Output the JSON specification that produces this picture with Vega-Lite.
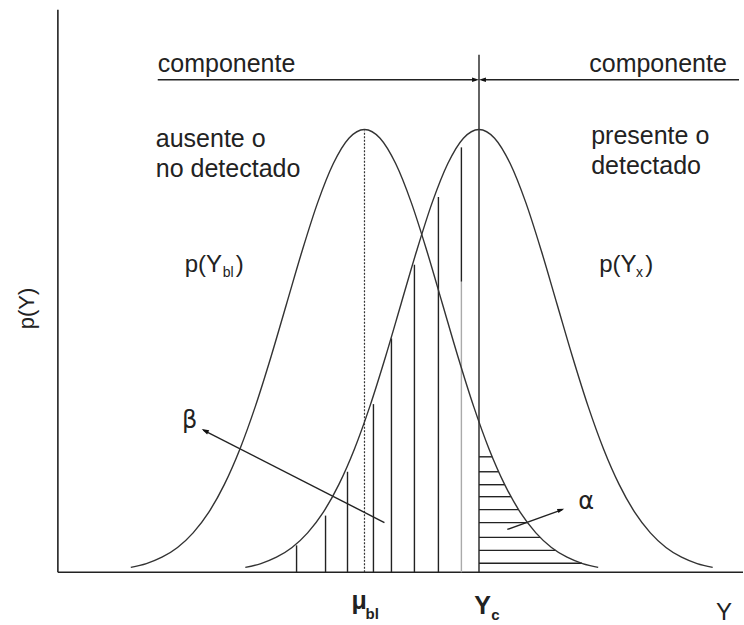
{
  "$schema": "https://vega.github.io/schema/vega-lite/v6.json",
  "width": 744,
  "height": 625,
  "padding": 0,
  "autosize": {"type": "fit", "contains": "padding"},
  "config": {"view": {"stroke": null}, "font": "Liberation Sans"},
  "datasets": {
    "curves": [
      {"c": "bl", "Y": -3.0, "p": 0.0044}, {"c": "bl", "Y": -2.8, "p": 0.0079}, {"c": "bl", "Y": -2.6, "p": 0.0136}, {"c": "bl", "Y": -2.4, "p": 0.0224}, {"c": "bl", "Y": -2.2, "p": 0.0356}, {"c": "bl", "Y": -2.0, "p": 0.0541}, {"c": "bl", "Y": -1.8, "p": 0.0792}, {"c": "bl", "Y": -1.6, "p": 0.1112}, {"c": "bl", "Y": -1.4, "p": 0.1501}, {"c": "bl", "Y": -1.2, "p": 0.1947}, {"c": "bl", "Y": -1.0, "p": 0.2426}, {"c": "bl", "Y": -0.8, "p": 0.2904}, {"c": "bl", "Y": -0.6, "p": 0.3341}, {"c": "bl", "Y": -0.4, "p": 0.3692}, {"c": "bl", "Y": -0.2, "p": 0.3921}, {"c": "bl", "Y": 0.0, "p": 0.4}, {"c": "bl", "Y": 0.2, "p": 0.3921}, {"c": "bl", "Y": 0.4, "p": 0.3692}, {"c": "bl", "Y": 0.6, "p": 0.3341}, {"c": "bl", "Y": 0.8, "p": 0.2904}, {"c": "bl", "Y": 1.0, "p": 0.2426}, {"c": "bl", "Y": 1.2, "p": 0.1947}, {"c": "bl", "Y": 1.4, "p": 0.1501}, {"c": "bl", "Y": 1.6, "p": 0.1112}, {"c": "bl", "Y": 1.8, "p": 0.0792}, {"c": "bl", "Y": 2.0, "p": 0.0541}, {"c": "bl", "Y": 2.2, "p": 0.0356}, {"c": "bl", "Y": 2.4, "p": 0.0224}, {"c": "bl", "Y": 2.6, "p": 0.0136}, {"c": "bl", "Y": 2.8, "p": 0.0079}, {"c": "bl", "Y": 3.0, "p": 0.0044},
      {"c": "x", "Y": -1.53, "p": 0.0044}, {"c": "x", "Y": -1.33, "p": 0.0079}, {"c": "x", "Y": -1.13, "p": 0.0136}, {"c": "x", "Y": -0.93, "p": 0.0224}, {"c": "x", "Y": -0.73, "p": 0.0356}, {"c": "x", "Y": -0.53, "p": 0.0541}, {"c": "x", "Y": -0.33, "p": 0.0792}, {"c": "x", "Y": -0.13, "p": 0.1112}, {"c": "x", "Y": 0.07, "p": 0.1501}, {"c": "x", "Y": 0.27, "p": 0.1947}, {"c": "x", "Y": 0.47, "p": 0.2426}, {"c": "x", "Y": 0.67, "p": 0.2904}, {"c": "x", "Y": 0.87, "p": 0.3341}, {"c": "x", "Y": 1.07, "p": 0.3692}, {"c": "x", "Y": 1.27, "p": 0.3921}, {"c": "x", "Y": 1.47, "p": 0.4}, {"c": "x", "Y": 1.67, "p": 0.3921}, {"c": "x", "Y": 1.87, "p": 0.3692}, {"c": "x", "Y": 2.07, "p": 0.3341}, {"c": "x", "Y": 2.27, "p": 0.2904}, {"c": "x", "Y": 2.47, "p": 0.2426}, {"c": "x", "Y": 2.67, "p": 0.1947}, {"c": "x", "Y": 2.87, "p": 0.1501}, {"c": "x", "Y": 3.07, "p": 0.1112}, {"c": "x", "Y": 3.27, "p": 0.0792}, {"c": "x", "Y": 3.47, "p": 0.0541}, {"c": "x", "Y": 3.67, "p": 0.0356}, {"c": "x", "Y": 3.87, "p": 0.0224}, {"c": "x", "Y": 4.07, "p": 0.0136}, {"c": "x", "Y": 4.27, "p": 0.0079}, {"c": "x", "Y": 4.47, "p": 0.0044}
    ],
    "axes": [
      {"x": -3.936, "y": 0, "x2": -3.936, "y2": 0.508},
      {"x": -3.936, "y": 0, "x2": 4.859, "y2": 0}
    ],
    "lines": [
      {"x": 1.47, "y": 0, "x2": 1.47, "y2": 0.4674},
      {"x": -2.654, "y": 0.4449, "x2": 1.43, "y2": 0.4449},
      {"x": 4.808, "y": 0.4449, "x2": 1.51, "y2": 0.4449},
      {"x": 0.256, "y": 0.0449, "x2": -2.07, "y2": 0.1284},
      {"x": 1.833, "y": 0.0387, "x2": 2.54, "y2": 0.0566},
      {"x": -0.872, "y": 0, "x2": -0.872, "y2": 0.0243},
      {"x": -0.5, "y": 0, "x2": -0.5, "y2": 0.0512},
      {"x": -0.218, "y": 0, "x2": -0.218, "y2": 0.0908},
      {"x": 0.115, "y": 0, "x2": 0.115, "y2": 0.1519},
      {"x": 0.346, "y": 0, "x2": 0.346, "y2": 0.2112},
      {"x": 0.641, "y": 0, "x2": 0.641, "y2": 0.2778},
      {"x": 0.949, "y": 0, "x2": 0.949, "y2": 0.3389},
      {"x": 1.244, "y": 0.2625, "x2": 1.244, "y2": 0.3838},
      {"x": 1.47, "y": 0.1043, "x2": 1.64, "y2": 0.1043},
      {"x": 1.47, "y": 0.0908, "x2": 1.722, "y2": 0.0908},
      {"x": 1.47, "y": 0.0791, "x2": 1.8, "y2": 0.0791},
      {"x": 1.47, "y": 0.0683, "x2": 1.88, "y2": 0.0683},
      {"x": 1.47, "y": 0.0566, "x2": 1.978, "y2": 0.0566},
      {"x": 1.47, "y": 0.0449, "x2": 2.091, "y2": 0.0449},
      {"x": 1.47, "y": 0.0315, "x2": 2.254, "y2": 0.0315},
      {"x": 1.47, "y": 0.0198, "x2": 2.452, "y2": 0.0198},
      {"x": 1.47, "y": 0.0081, "x2": 2.793, "y2": 0.0081}
    ],
    "dotted": [{"x": 0, "y": 0, "x2": 0, "y2": 0.3991}],
    "gray": [{"x": 1.244, "y": 0, "x2": 1.244, "y2": 0.2625}],
    "words": [
      {"t": "componente", "x": -2.654, "y": 0.4521},
      {"t": "componente", "x": 2.885, "y": 0.4521},
      {"t": "ausente o", "x": -2.679, "y": 0.3838},
      {"t": "no detectado", "x": -2.679, "y": 0.3569},
      {"t": "presente o", "x": 2.91, "y": 0.3865},
      {"t": "detectado", "x": 2.91, "y": 0.3596}
    ],
    "plabels": [
      {"t": "p(Y", "x": -2.308, "y": 0.2715},
      {"t": ")", "x": -1.654, "y": 0.2715},
      {"t": "p(Y", "x": 3.013, "y": 0.2715},
      {"t": ")", "x": 3.603, "y": 0.2715},
      {"t": "Y", "x": 4.513, "y": -0.0431}
    ],
    "subs": [
      {"t": "bl", "x": -1.821, "y": 0.267},
      {"t": "x", "x": 3.487, "y": 0.267}
    ],
    "greek": [
      {"t": "β", "x": -2.244, "y": 0.1366},
      {"t": "α", "x": 2.846, "y": 0.0638}
    ],
    "boldmain": [
      {"t": "μ", "x": -0.167, "y": -0.0333},
      {"t": "Y", "x": 1.41, "y": -0.0378}
    ],
    "boldsub": [
      {"t": "bl", "x": 0.013, "y": -0.0422},
      {"t": "c", "x": 1.628, "y": -0.0431}
    ],
    "ylabel": [{"t": "p(Y)", "x": -4.333, "y": 0.2382}]
  },
  "encoding": {
    "x": {"field": "x", "type": "quantitative", "axis": null, "scale": {"domain": [-4.679, 4.859], "nice": false, "zero": false}},
    "y": {"field": "y", "type": "quantitative", "axis": null, "scale": {"domain": [-0.0449, 0.5169], "nice": false, "zero": false}}
  },
  "layer": [
    {"data": {"name": "axes"}, "mark": {"type": "rule", "color": "#222", "strokeWidth": 1.6},
     "encoding": {"x2": {"field": "x2"}, "y2": {"field": "y2"}}},
    {"data": {"name": "dotted"}, "mark": {"type": "rule", "color": "#333", "strokeWidth": 1.2, "strokeDash": [2, 1.5]},
     "encoding": {"x2": {"field": "x2"}, "y2": {"field": "y2"}}},
    {"data": {"name": "gray"}, "mark": {"type": "rule", "color": "#aaa", "strokeWidth": 1.4},
     "encoding": {"x2": {"field": "x2"}, "y2": {"field": "y2"}}},
    {"data": {"name": "lines"}, "mark": {"type": "rule", "color": "#222", "strokeWidth": 1.4},
     "encoding": {"x2": {"field": "x2"}, "y2": {"field": "y2"}}},
    {"data": {"name": "curves"}, "mark": {"type": "line", "color": "#333", "strokeWidth": 1.4, "interpolate": "monotone"},
     "encoding": {"x": {"field": "Y", "type": "quantitative"}, "y": {"field": "p", "type": "quantitative"}, "detail": {"field": "c"}}},
    {"data": {"values": [{"x": 1.47, "y": 0.4449}]}, "mark": {"type": "point", "shape": "M0,0 L-2.2,-0.7 L-2.2,0.7 Z", "filled": true, "color": "#111", "size": 40, "opacity": 1, "angle": 0}},
    {"data": {"values": [{"x": 1.47, "y": 0.4449}]}, "mark": {"type": "point", "shape": "M0,0 L-2.2,-0.7 L-2.2,0.7 Z", "filled": true, "color": "#111", "size": 40, "opacity": 1, "angle": 180}},
    {"data": {"values": [{"x": -2.09, "y": 0.1294}]}, "mark": {"type": "point", "shape": "M0,0 L-2.2,-0.7 L-2.2,0.7 Z", "filled": true, "color": "#111", "size": 44, "opacity": 1, "angle": 207}},
    {"data": {"values": [{"x": 2.564, "y": 0.0575}]}, "mark": {"type": "point", "shape": "M0,0 L-2.2,-0.7 L-2.2,0.7 Z", "filled": true, "color": "#111", "size": 40, "opacity": 1, "angle": 340}},
    {"data": {"name": "words"}, "mark": {"type": "text", "align": "left", "baseline": "alphabetic", "fontSize": 25, "color": "#222"},
     "encoding": {"text": {"field": "t"}}},
    {"data": {"name": "plabels"}, "mark": {"type": "text", "align": "left", "baseline": "alphabetic", "fontSize": 24, "color": "#222"},
     "encoding": {"text": {"field": "t"}}},
    {"data": {"name": "subs"}, "mark": {"type": "text", "align": "left", "baseline": "alphabetic", "fontSize": 14, "color": "#222"},
     "encoding": {"text": {"field": "t"}}},
    {"data": {"name": "greek"}, "mark": {"type": "text", "align": "center", "baseline": "middle", "fontSize": 24, "color": "#222", "font": "DejaVu Sans"},
     "encoding": {"text": {"field": "t"}}},
    {"data": {"name": "boldmain"}, "mark": {"type": "text", "align": "left", "baseline": "alphabetic", "fontSize": 25, "fontWeight": "bold", "color": "#222"},
     "encoding": {"text": {"field": "t"}}},
    {"data": {"name": "boldsub"}, "mark": {"type": "text", "align": "left", "baseline": "alphabetic", "fontSize": 15, "fontWeight": "bold", "color": "#222"},
     "encoding": {"text": {"field": "t"}}},
    {"data": {"name": "ylabel"}, "mark": {"type": "text", "align": "center", "baseline": "middle", "fontSize": 22, "angle": 270, "color": "#222"},
     "encoding": {"text": {"field": "t"}}}
  ]
}
